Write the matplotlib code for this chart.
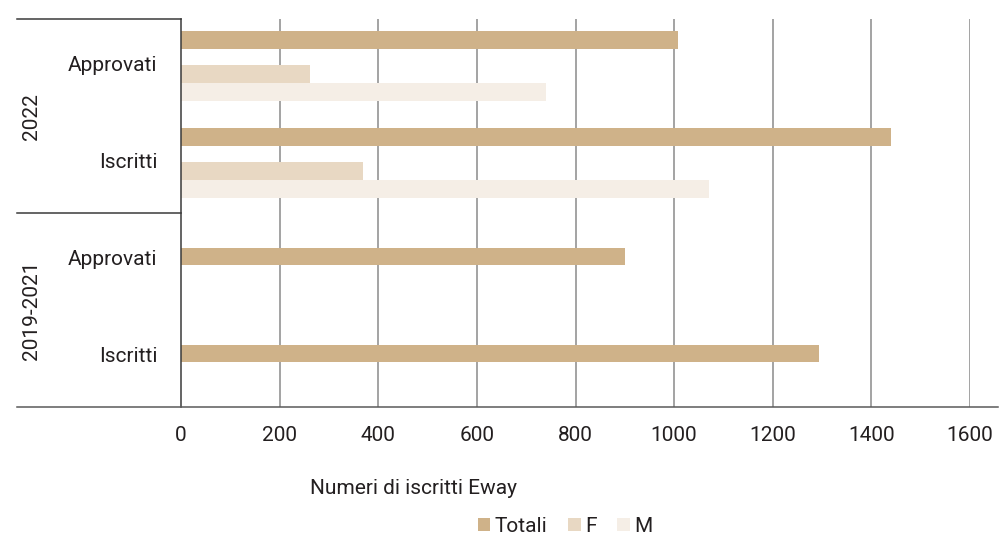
import matplotlib
matplotlib.use("Agg")
import matplotlib.pyplot as plt
from matplotlib.lines import Line2D
from matplotlib.patches import Patch

# ---- data -------------------------------------------------------------
periods = ["2022", "2019-2021"]
categories = ["Approvati", "Iscritti", "Approvati", "Iscritti"]   # top to bottom
category_period = [0, 0, 1, 1]
series_names = ["Totali", "F", "M"]
totali = [1008, 1440, 901, 1293]
femmine = [262, 369, None, None]
maschi = [740, 1071, None, None]
x_ticks = [0, 200, 400, 600, 800, 1000, 1200, 1400, 1600]
x_label = "Numeri di iscritti Eway"

colors = {"Totali": "#CFB289", "F": "#E8D8C3", "M": "#F5EEE6"}
text_color = "#231F20"
fs = 15

plt.rcParams["font.family"] = ["Roboto", "DejaVu Sans"]

W, H = 1002, 536
fig = plt.figure(figsize=(W / 100, H / 100), dpi=100)

ax_left, ax_right, ax_top, ax_bottom = 181, 970, 19, 407
ax = fig.add_axes([ax_left / W, 1 - ax_bottom / H,
                   (ax_right - ax_left) / W, (ax_bottom - ax_top) / H])

n = len(categories)
ax.set_ylim(n, 0)
ax.set_xlim(x_ticks[0], x_ticks[-1])

bar_h = 0.183
centers = [i + 0.5 for i in range(n)]
# offsets inside a category slot: split groups carry the F / M rows
split_offsets = {"Totali": -0.28, "F": 0.069, "M": 0.25}
single_offset = -0.052

for i, c in enumerate(centers):
    has_split = femmine[i] is not None
    if has_split:
        ax.barh(c + split_offsets["Totali"], totali[i], height=bar_h,
                color=colors["Totali"], zorder=3)
        ax.barh(c + split_offsets["F"], femmine[i], height=bar_h,
                color=colors["F"], zorder=3)
        ax.barh(c + split_offsets["M"], maschi[i], height=bar_h,
                color=colors["M"], zorder=3)
    else:
        ax.barh(c + single_offset, totali[i], height=bar_h,
                color=colors["Totali"], zorder=3)

# vertical grid
for t in x_ticks[1:]:
    ax.axvline(t, color="#8A8A8A", lw=1.1, zorder=1)

for s in ["top", "right", "bottom"]:
    ax.spines[s].set_visible(False)
ax.spines["left"].set_color("#3A3A3A")
ax.spines["left"].set_linewidth(1.1)
ax.spines["left"].set_zorder(4)

ax.set_xticks(x_ticks)
ax.set_xticklabels([str(t) for t in x_ticks], fontsize=fs, color=text_color)
ax.tick_params(axis="x", length=0, pad=14)

ax.set_yticks([c - 0.04 for c in centers])
ax.set_yticklabels(categories, fontsize=fs, color=text_color)
ax.tick_params(axis="y", length=0, pad=17)

# period separators and outer baseline
line_kw = dict(transform=fig.transFigure, clip_on=False)
fig.add_artist(Line2D([17 / W, ax_left / W], [1 - ax_top / H] * 2,
                      color="#3A3A3A", lw=1.1, **line_kw))
fig.add_artist(Line2D([17 / W, ax_left / W], [1 - 213 / H] * 2,
                      color="#3A3A3A", lw=1.1, **line_kw))
fig.add_artist(Line2D([17 / W, 998 / W], [1 - ax_bottom / H] * 2,
                      color="#5A5A5A", lw=1.1, **line_kw))

# period labels
fig.text(32 / W, 1 - 117 / H, periods[0], rotation=90, ha="center", va="center",
         fontsize=fs, color=text_color)
fig.text(32 / W, 1 - 310 / H, periods[1], rotation=90, ha="center", va="center",
         fontsize=fs, color=text_color)

fig.text(413 / W, 1 - 488 / H, x_label, ha="center", va="center",
         fontsize=fs, color=text_color)

handles = [Patch(facecolor=colors[s], edgecolor="none") for s in series_names]
fig.legend(handles, series_names, loc="center", bbox_to_anchor=(565 / W, 1 - 526 / H),
           ncol=3, frameon=False, fontsize=fs, handlelength=0.6, handleheight=0.6,
           handletextpad=0.2, columnspacing=1.0, labelcolor=text_color,
           borderpad=0, borderaxespad=0)

fig.savefig("out.png", dpi=100)
